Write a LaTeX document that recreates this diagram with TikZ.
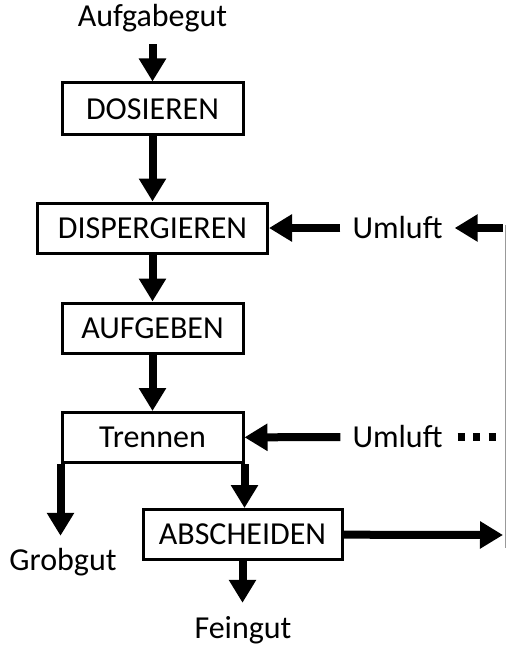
\documentclass[tikz,border=0pt]{standalone}
\usepackage{fontspec}
\setmainfont{Carlito}
\usetikzlibrary{arrows.meta}
\begin{document}
\begin{tikzpicture}[x=1pt,y=-1pt,
  txt/.style={font=\fontsize{32}{38}\selectfont},
  box/.style={txt, draw, line width=3pt, inner sep=0pt},
  lbl/.style={txt, inner sep=0pt, text height=21pt, text depth=7pt, anchor=base},
  air/.style={txt, inner ysep=0pt, inner xsep=12pt},
  flow/.style={line width=8pt, -{Triangle[length=23pt,width=26pt]}},
  loopline/.style={line width=1pt, draw=black!40}]
  \useasboundingbox (0,0) rectangle (507,647);

  % process chain
  \node[lbl] (auf) at (152.5,27) {Aufgabegut};
  \node[box, minimum width=181pt, minimum height=52pt] (dos) at (152.5,109) {DOSIEREN};
  \node[box, minimum width=230pt, minimum height=50pt] (disp) at (152.5,228) {DISPERGIEREN};
  \node[box, minimum width=181pt, minimum height=50pt] (aufg) at (152.5,328) {AUFGEBEN};
  \node[box, minimum width=181pt, minimum height=50pt] (tren) at (152.5,437.5) {Trennen};
  \node[box, minimum width=199pt, minimum height=50pt] (absch) at (242.5,534.5) {ABSCHEIDEN};

  % air supply and products
  \node[air] (u1) at (397.5,228) {Umluft};
  \node[air] (u2) at (397.5,437) {Umluft};
  \node[lbl] (grob) at (63,570) {Grobgut};
  \node[lbl] (fein) at (243,638) {Feingut};

  % free ends on the right
  \coordinate (rin) at (503,228);
  \coordinate (rout) at (503,535);
  \coordinate (dashend) at (498,437);
  \coordinate (gtop) at (505.5,225);
  \coordinate (gbot) at (505.5,548);

  \draw[loopline] (gtop) -- (gbot);

  \draw[flow, shorten <=10pt] (auf) -- (dos);
  \draw[flow] (dos) -- (disp);
  \draw[flow] (disp) -- (aufg);
  \draw[flow] (aufg) -- (tren);

  \draw[flow] (u1) -- (disp);
  \draw[flow] (rin) -- (u1);
  \draw[flow] (u2) -- (tren);
  \draw[line width=8pt, dash pattern=on 7pt off 8.5pt, shorten <=3pt] (u2) -- (dashend);

  \draw[flow, shorten >=13pt] (tren.south west) -- (tren.south west |- grob.north);
  \draw[flow] (tren.south east) -- (tren.south east |- absch.north);
  \draw[flow, shorten >=14pt] (absch.south) -- (absch.south |- fein.north);
  \draw[flow] (absch) -- (rout);
\end{tikzpicture}
\end{document}
